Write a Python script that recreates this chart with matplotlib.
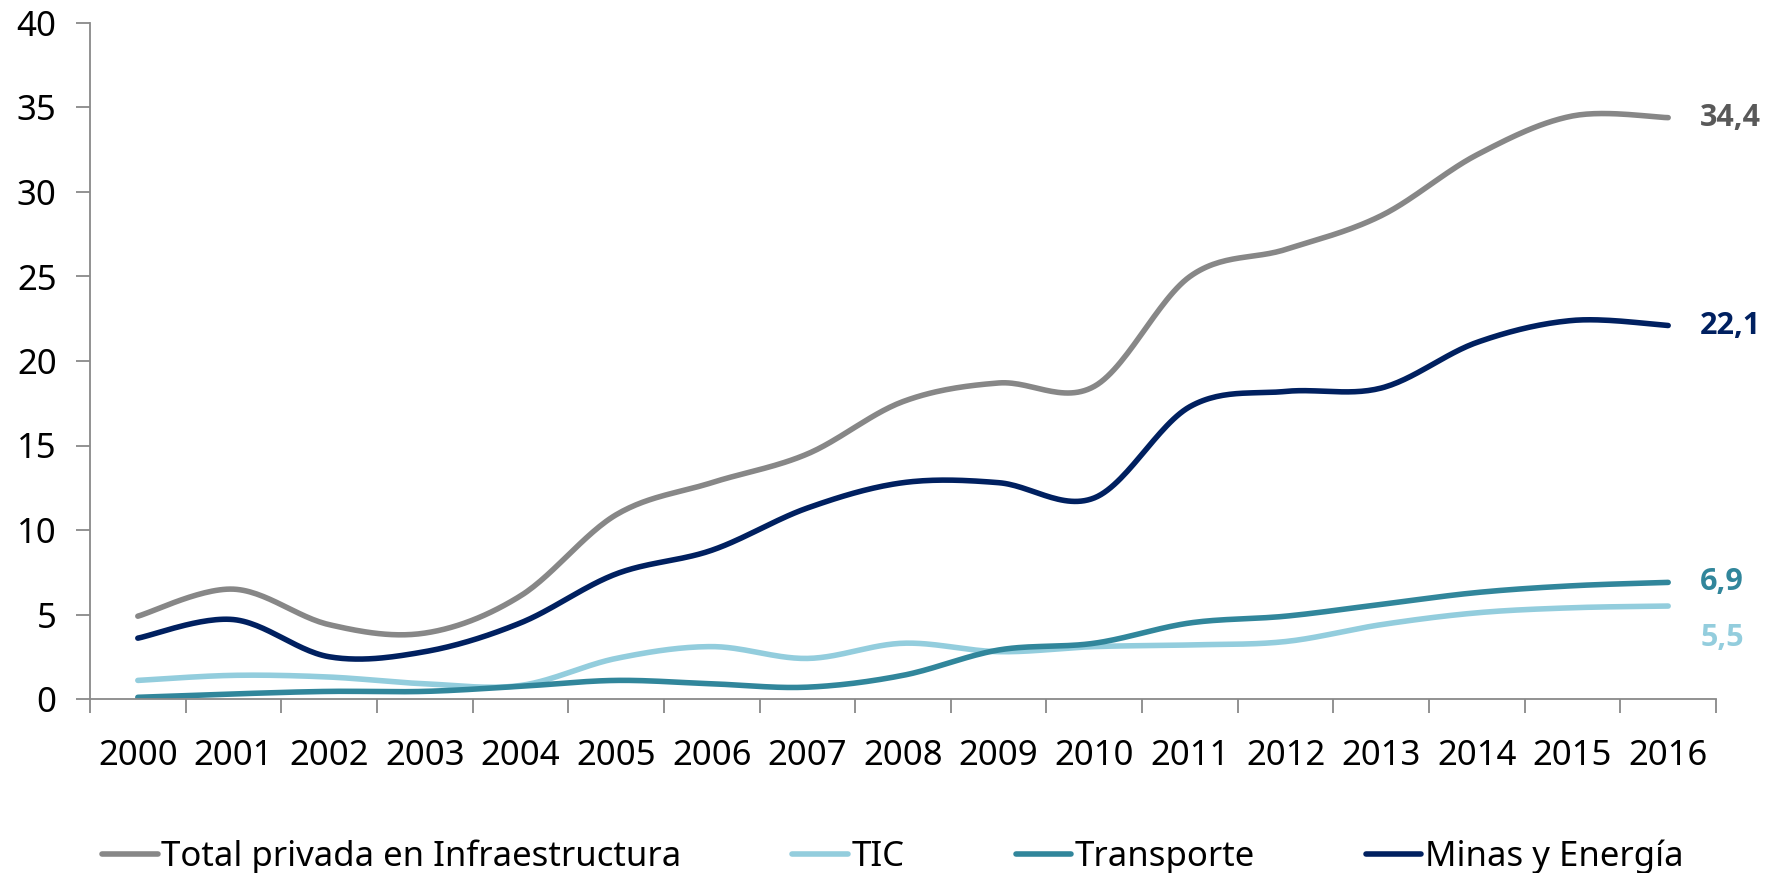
import numpy as np
import matplotlib.pyplot as plt

# datos (billones de pesos)
anios = ['2000', '2001', '2002', '2003', '2004', '2005', '2006', '2007', '2008',
         '2009', '2010', '2011', '2012', '2013', '2014', '2015', '2016']
total = [4.9, 6.5, 4.4, 3.9, 6.1, 10.9, 12.8, 14.5, 17.6, 18.7, 18.5, 25.0, 26.6, 28.6, 32.2, 34.5, 34.4]
tic = [1.1, 1.4, 1.3, 0.9, 0.8, 2.4, 3.1, 2.4, 3.3, 2.8, 3.1, 3.2, 3.4, 4.4, 5.1, 5.4, 5.5]
transporte = [0.1, 0.3, 0.45, 0.45, 0.75, 1.1, 0.9, 0.7, 1.4, 2.9, 3.3, 4.5, 4.9, 5.6, 6.3, 6.7, 6.9]
minas = [3.6, 4.7, 2.5, 2.8, 4.5, 7.4, 8.8, 11.3, 12.8, 12.8, 11.9, 17.3, 18.2, 18.4, 21.1, 22.4, 22.1]

nombres = ['Total privada en Infraestructura', 'TIC', 'Transporte', 'Minas y Energía']
colores = ['#878787', '#93CDDD', '#31869B', '#002060']
color_etiqueta = ['#595959', '#93CDDD', '#31869B', '#002060']
desplaz_etiqueta = [0, -32, 0, 0]


def suavizar(x, y, n=30):
    # curva suavizada tipo Excel (Bezier / Catmull-Rom)
    p = np.column_stack([x, y]).astype(float)
    p_ext = np.vstack([p[0], p, p[-1]])
    t = np.linspace(0, 1, n)[:, None]
    partes = []
    for i in range(len(p) - 1):
        p0, p1, p2, p3 = p_ext[i], p_ext[i + 1], p_ext[i + 2], p_ext[i + 3]
        c1 = p1 + (p2 - p0) / 6
        c2 = p2 - (p3 - p1) / 6
        seg = ((1 - t) ** 3) * p1 + 3 * ((1 - t) ** 2) * t * c1 + 3 * (1 - t) * t ** 2 * c2 + t ** 3 * p2
        partes.append(seg if i == 0 else seg[1:])
    curva = np.vstack(partes)
    return curva[:, 0], curva[:, 1]


plt.rcParams['font.family'] = ['Noto Sans', 'DejaVu Sans']

fig = plt.figure(figsize=(17.79, 8.73), dpi=100)
ax = fig.add_axes([90 / 1779, 1 - 699 / 873, (1716 - 90) / 1779, (699 - 23) / 873])

x = np.arange(len(anios))
series = [total, tic, transporte, minas]
for serie, nombre, color, col_lab, dy in zip(series, nombres, colores, color_etiqueta, desplaz_etiqueta):
    xs, ys = suavizar(x, serie)
    ax.plot(xs, ys, color=color, lw=4, solid_capstyle='round', label=nombre)
    ax.annotate(f'{serie[-1]:.1f}'.replace('.', ','), xy=(x[-1], serie[-1]),
                xytext=(23, dy * 0.72), textcoords='offset points',
                ha='left', va='center', fontsize=22, fontweight='bold', color=col_lab,
                family=['Open Sans', 'DejaVu Sans'])

ax.set_xlim(-0.5, len(anios) - 0.5)
ax.set_ylim(0, 40)
ax.set_yticks(range(0, 41, 5))

# marcas entre categorias, etiquetas al centro
ax.set_xticks(np.arange(-0.5, len(anios), 1))
ax.set_xticklabels([])
ax.set_xticks(x, minor=True)
ax.set_xticklabels(anios, minor=True)
ax.tick_params(axis='x', which='major', length=10, width=1.3, color='#898989', direction='out')
ax.tick_params(axis='x', which='minor', length=0, pad=29, labelsize=25)
ax.tick_params(axis='y', length=10, width=1.3, color='#898989', pad=14, labelsize=25)

for lado in ['top', 'right']:
    ax.spines[lado].set_visible(False)
for lado in ['left', 'bottom']:
    ax.spines[lado].set_color('#898989')
    ax.spines[lado].set_linewidth(1.3)

fig.legend(loc='center left', bbox_to_anchor=(102 / 1779, 1 - 857 / 873), ncol=4,
           frameon=False, fontsize=25, handlelength=1.6, handletextpad=0.1,
           columnspacing=3.2, borderpad=0, borderaxespad=0)

plt.savefig('out.png', dpi=100)
plt.close()
